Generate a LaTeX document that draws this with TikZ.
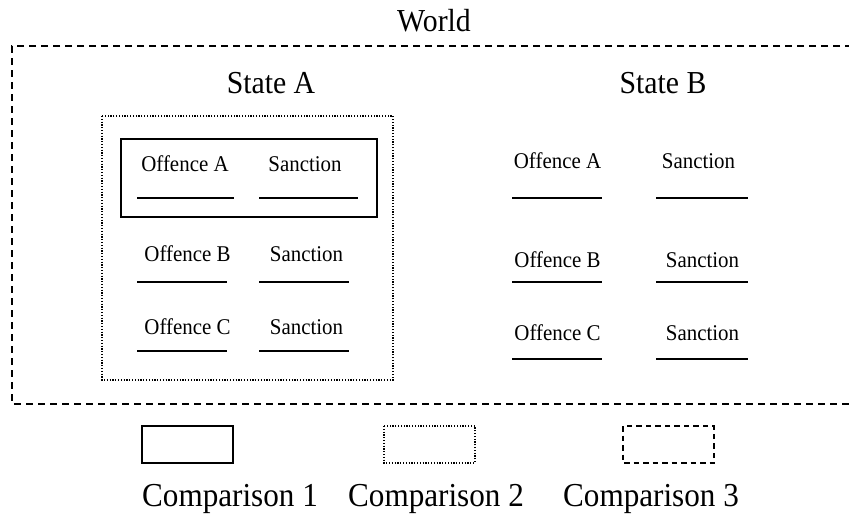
\documentclass[tikz,border=0pt]{standalone}
\usepackage{fontspec}
\setmainfont{Liberation Serif}[FakeStretch=0.93]
\begin{document}
\begin{tikzpicture}[x=1pt,y=-1pt,
  big/.style={inner sep=0pt,anchor=base,font=\fontsize{32}{36}\selectfont},
  legendtxt/.style={inner sep=0pt,anchor=base,font=\fontsize{33.5}{38}\selectfont},
  small/.style={inner sep=0pt,anchor=base,font=\fontsize{22.5}{26}\selectfont},
  blank/.style={line width=1.8pt},
  solidbox/.style={draw,line width=1.8pt},
  dotbox/.style={draw,line width=1.4pt,dash pattern=on 1.2pt off 1.6pt},
  dashbox/.style={draw,line width=1.8pt,dash pattern=on 7pt off 5pt},
  legdash/.style={draw,line width=1.8pt,dash pattern=on 5.5pt off 4pt}]
\useasboundingbox (0,0) rectangle (849,517);

% World frame, open on the right
\draw[dashbox] (852,46) -- (12,46) -- (12,404) -- (852,404);
\node[big] (world) at (434,31) {World};

% State labels
\node[big] (stateA) at (271,93) {State A};
\node[big] (stateB) at (663,93) {State B};

% State A: dotted and solid groupings
\draw[dotbox] (102,116) rectangle (393,380);
\draw[solidbox] (121,139) rectangle (377,217);

% State A rows
\node[small] (aoa) at (185,171) {Offence A};
\node[small] (asa) at (305,171) {Sanction};
\draw[blank] (137,198) -- (234,198);
\draw[blank] (259,198) -- (358,198);

\node[small] (aob) at (187.5,261) {Offence B};
\node[small] (asb) at (306.5,261) {Sanction};
\draw[blank] (137,282) -- (227,282);
\draw[blank] (259,282) -- (349,282);

\node[small] (aoc) at (187.5,334) {Offence C};
\node[small] (asc) at (306.5,334) {Sanction};
\draw[blank] (137,351) -- (227,351);
\draw[blank] (259,351) -- (349,351);

% State B rows
\node[small] (boa) at (557.5,168) {Offence A};
\node[small] (bsa) at (698.5,168) {Sanction};
\draw[blank] (512,198) -- (602,198);
\draw[blank] (656,198) -- (748,198);

\node[small] (bob) at (557.5,267) {Offence B};
\node[small] (bsb) at (702.5,267) {Sanction};
\draw[blank] (512,282) -- (602,282);
\draw[blank] (656,282) -- (748,282);

\node[small] (boc) at (557.5,340) {Offence C};
\node[small] (bsc) at (702.5,340) {Sanction};
\draw[blank] (512,359) -- (602,359);
\draw[blank] (656,359) -- (748,359);

% Legend
\draw[solidbox] (142,426) rectangle (233,463);
\draw[dotbox] (384,426) rectangle (475,463);
\draw[legdash] (623,426) rectangle (714,463);
\node[legendtxt] (c1) at (230,506) {Comparison 1};
\node[legendtxt] (c2) at (436,506) {Comparison 2};
\node[legendtxt] (c3) at (651,506) {Comparison 3};
\end{tikzpicture}
\end{document}
